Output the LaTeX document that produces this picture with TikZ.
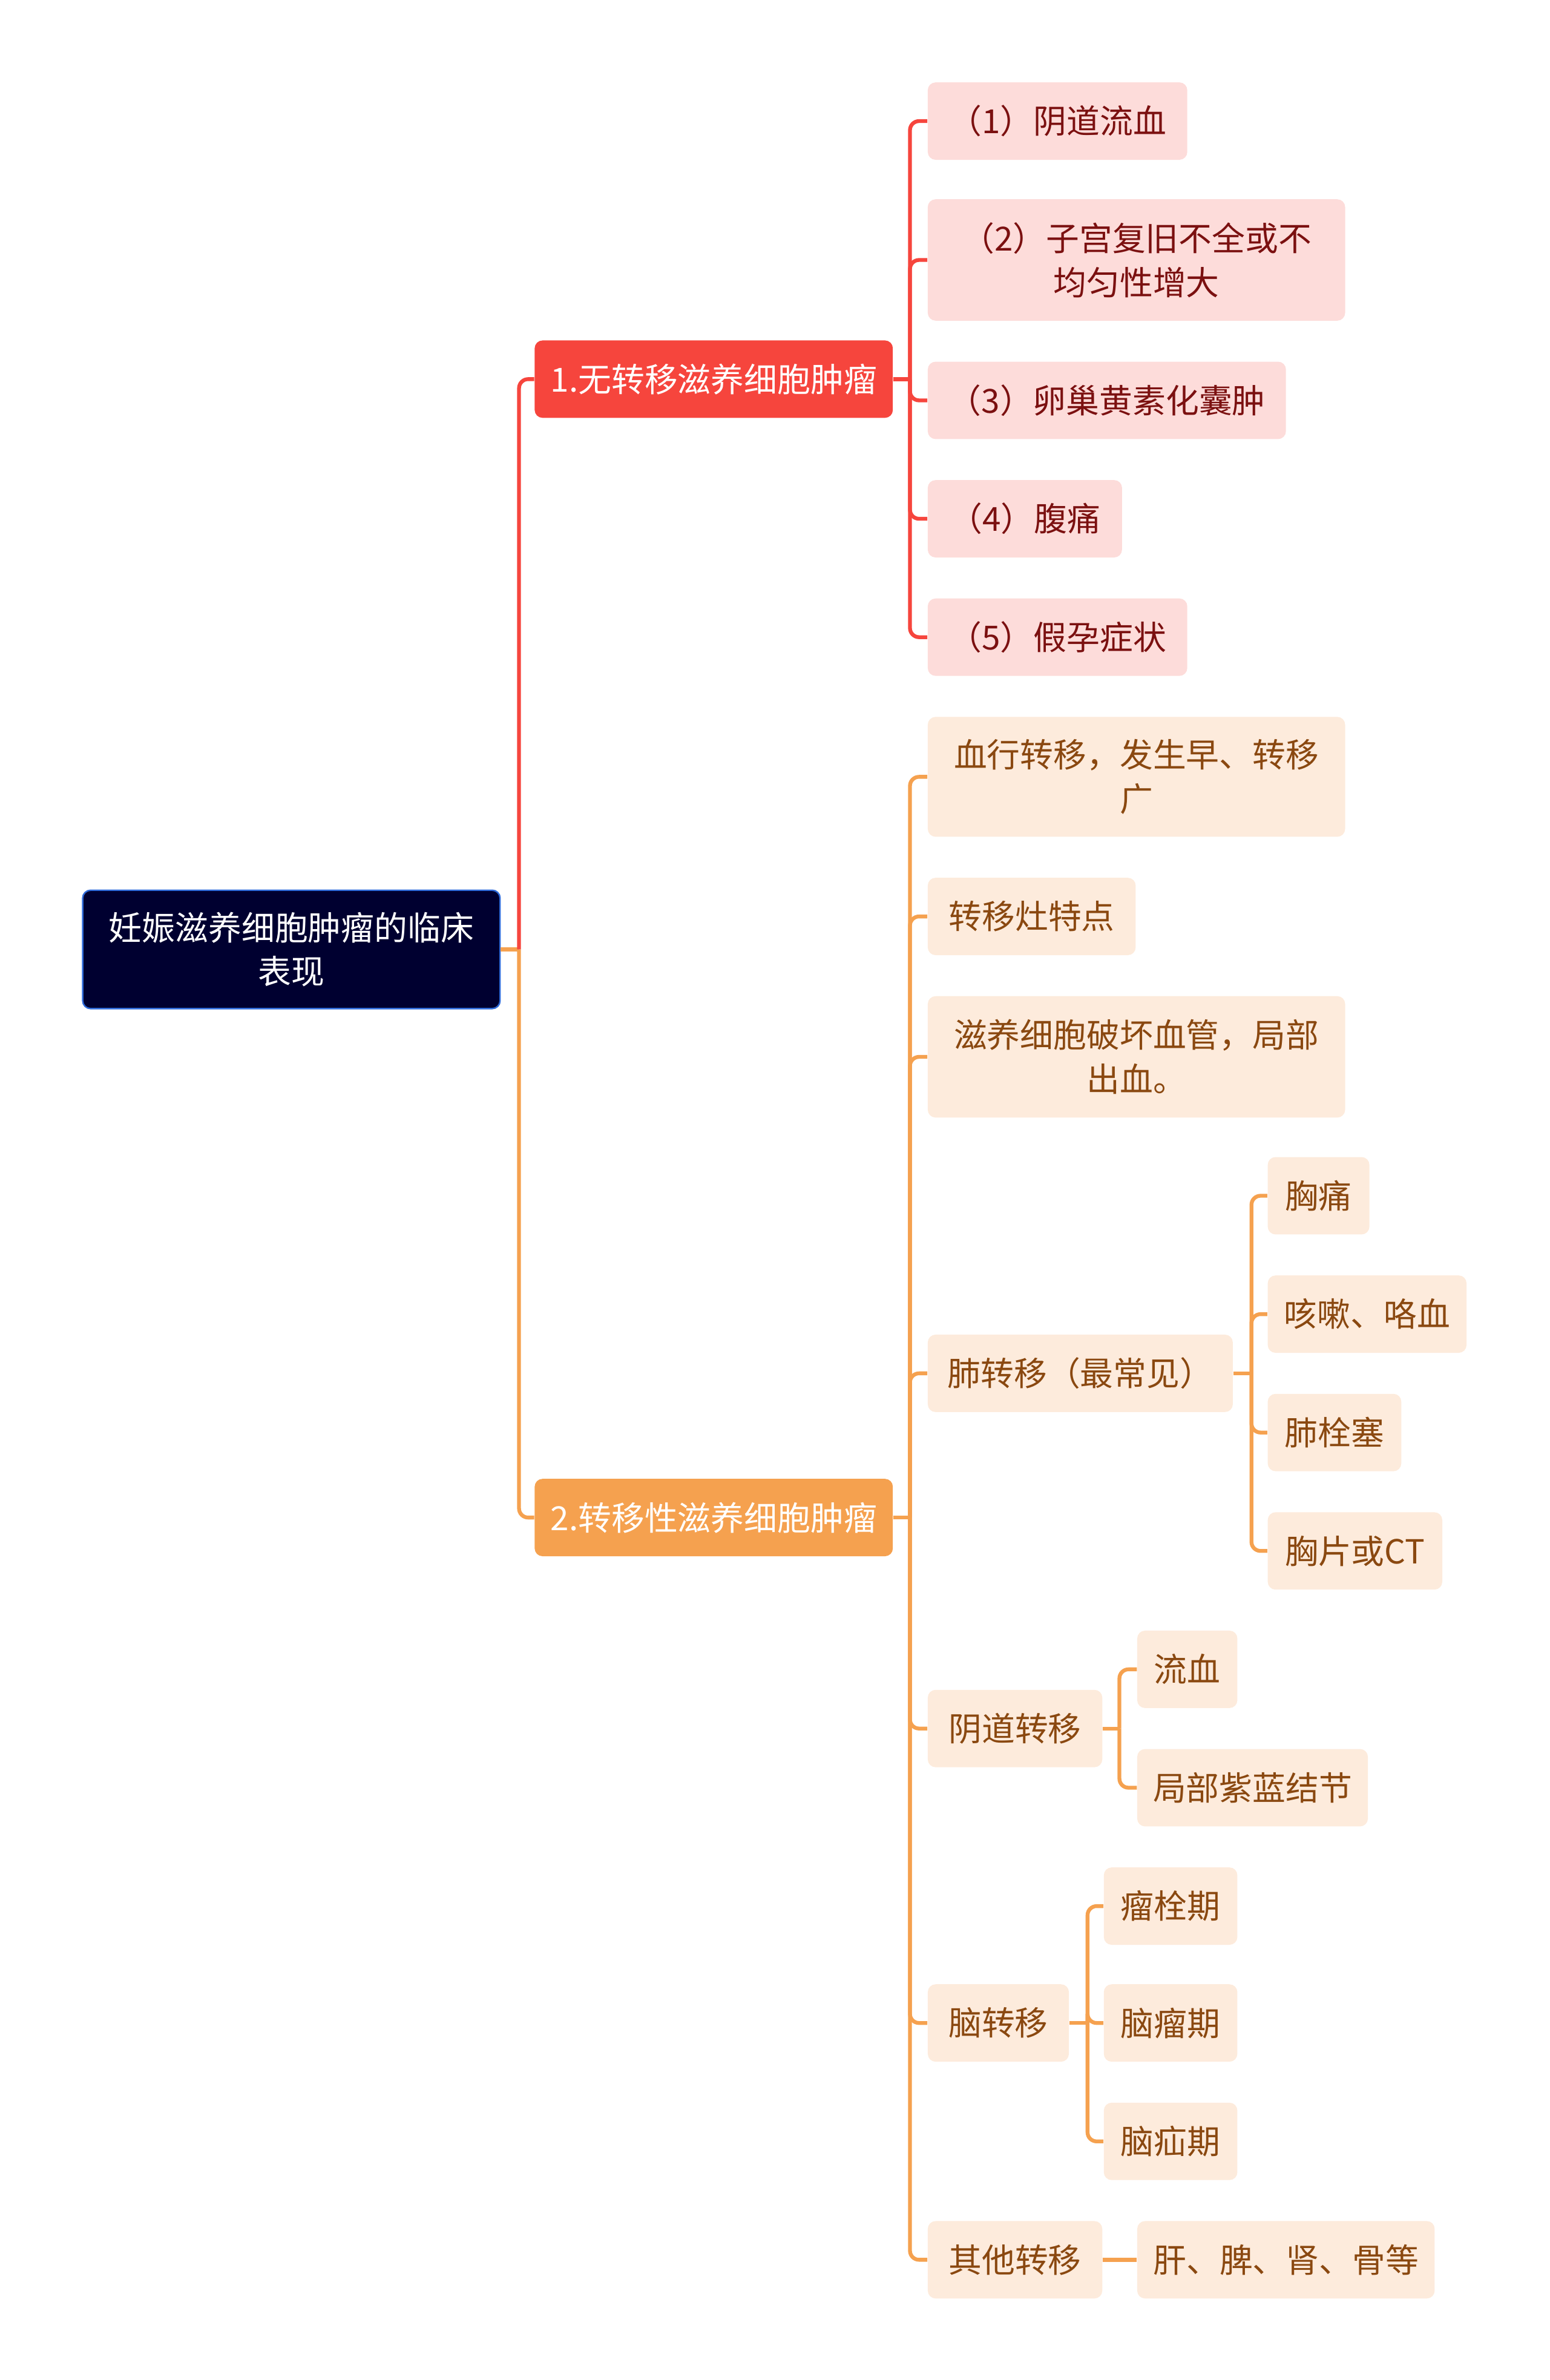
\documentclass[tikz,border=0pt]{standalone}
\usepackage{fontspec}
\newfontfamily\cjk{Noto Sans CJK SC}
\usetikzlibrary{calc}
\definecolor{crootbg}{HTML}{000030}
\definecolor{crootln}{HTML}{2F6BD9}
\definecolor{cred}{HTML}{F6453D}
\definecolor{credlf}{HTML}{FDDCDA}
\definecolor{credtx}{HTML}{7B1010}
\definecolor{corg}{HTML}{F5A14F}
\definecolor{corglf}{HTML}{FDEBDC}
\definecolor{corgtx}{HTML}{8A4810}

\begin{document}
\begin{tikzpicture}[x=0.02507cm, y=-0.02507cm,
  every node/.style={font=\cjk\fontsize{15.6}{20.7}\selectfont, rounded corners=0.13cm,
    inner sep=0pt, align=center, anchor=north west},
  bw/.style={minimum width=#1*0.02507cm},
  bh/.style={minimum height=#1*0.02507cm},
  rootbox/.style={fill=crootbg, draw=crootln, line width=0.7pt, text=white},
  redmain/.style={fill=cred, text=white, bh=51},
  orgmain/.style={fill=corg, text=white, bh=51},
  redleaf/.style={fill=credlf, text=credtx},
  orgleaf/.style={fill=corglf, text=corgtx},
  redline/.style={draw=cred, line width=1.8pt, rounded corners=0.15cm},
  orgline/.style={draw=corg, line width=1.8pt, rounded corners=0.15cm}]
\useasboundingbox (0,0) rectangle (1021,1568);

\node[rootbox, bw=275, bh=78] (root) at (54,586) {妊娠滋养细胞肿瘤的临床\\表现};
\node[redmain, bw=236] (nt) at (352,224) {1.无转移滋养细胞肿瘤};
\node[orgmain, bw=236] (mt) at (352,974) {2.转移性滋养细胞肿瘤};

\foreach \n/\y/\w/\h/\t in {c1/54/171/51/{（1）阴道流血},
    c2/131/275/80/{（2）子宫复旧不全或不\\均匀性增大},
    c3/238/236/51/{（3）卵巢黄素化囊肿},
    c4/316/128/51/{（4）腹痛},
    c5/394/171/51/{（5）假孕症状}}
  \node[redleaf, bw=\w, bh=\h] (\n) at (611,\y) {\t};

\foreach \n/\x/\y/\w/\h/\t in {o1/611/472/275/79/{血行转移，发生早、转移\\广},
    o2/611/578/137/51/{转移灶特点},
    o3/611/656/275/80/{滋养细胞破坏血管，局部\\出血。},
    o4/611/879/201/51/{肺转移（最常见）},
    o5/611/1113/115/51/{阴道转移},
    o6/611/1307/93/51/{脑转移},
    o7/611/1463/115/51/{其他转移},
    p1/835/762/67/51/{胸痛},
    p2/835/840/131/51/{咳嗽、咯血},
    p3/835/918/88/51/{肺栓塞},
    p4/835/996/115/51/{胸片或CT},
    v1/749/1074/66/51/{流血},
    v2/749/1152/152/51/{局部紫蓝结节},
    b1/727/1230/88/51/{瘤栓期},
    b2/727/1307/88/51/{脑瘤期},
    b3/727/1385/88/51/{脑疝期},
    q1/749/1463/196/51/{肝、脾、肾、骨等}}
  \node[orgleaf, bw=\w, bh=\h] (\n) at (\x,\y) {\t};

\coordinate (rj) at ($(root.east)+(12,0)$);
\draw[orgline] (root.east) -- (rj);
\draw[redline] (rj) |- (nt.west);
\draw[orgline] (rj) |- (mt.west);

\coordinate (ntj) at ($(nt.east)+(11,0)$);
\draw[redline] (nt.east) -- (ntj);
\foreach \n in {c1,c2,c3,c4,c5}
  \draw[redline] (ntj) |- (\n.west);

\coordinate (mtj) at ($(mt.east)+(11,0)$);
\draw[orgline] (mt.east) -- (mtj);
\foreach \n in {o1,o2,o3,o4,o5,o6,o7}
  \draw[orgline] (mtj) |- (\n.west);

\coordinate (o4j) at ($(o4.east)+(12,0)$);
\draw[orgline] (o4.east) -- (o4j);
\foreach \n in {p1,p2,p3,p4}
  \draw[orgline] (o4j) |- (\n.west);

\coordinate (o5j) at ($(o5.east)+(11,0)$);
\draw[orgline] (o5.east) -- (o5j);
\foreach \n in {v1,v2}
  \draw[orgline] (o5j) |- (\n.west);

\coordinate (o6j) at ($(o6.east)+(12,0)$);
\draw[orgline] (o6.east) -- (o6j);
\foreach \n in {b1,b2,b3}
  \draw[orgline] (o6j) |- (\n.west);

\draw[orgline] (o7.east) -- (q1.west);
\end{tikzpicture}
\end{document}
